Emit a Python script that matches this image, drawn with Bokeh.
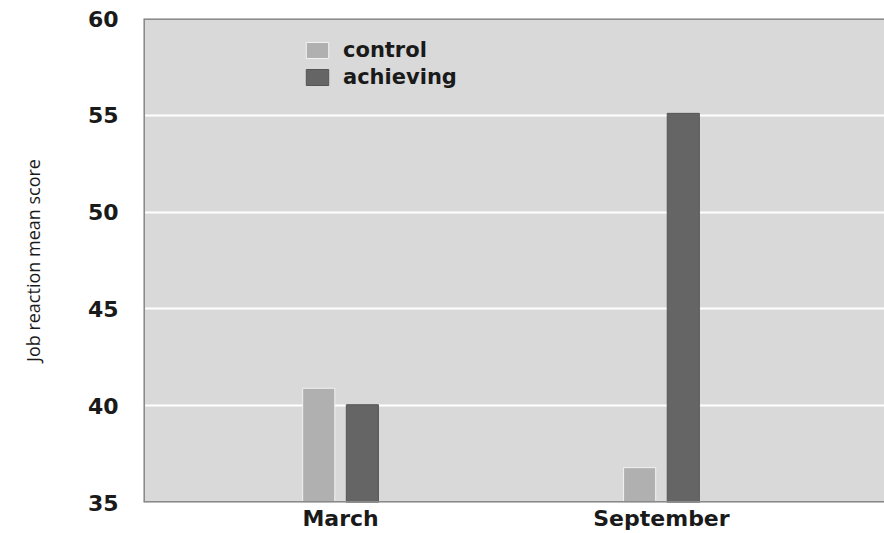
from bokeh.plotting import figure
from bokeh.models import ColumnDataSource, Range1d, FixedTicker, Legend, LegendItem, Span
from bokeh.embed import file_html
from bokeh.resources import INLINE

categories = ["March", "September"]
series_names = ["control", "achieving"]
control = [40.9, 36.8]
achieving = [40.05, 55.1]
y_ticks = [35, 40, 45, 50, 55, 60]

colors = ["#b0b0b0", "#656565"]
offsets = [-0.068, 0.068]
bar_w = 0.1
x_start, x_end = -0.614, 1.695

p = figure(width=884, height=533, output_backend="svg", toolbar_location=None,
           x_range=Range1d(x_start, x_end), y_range=Range1d(y_ticks[0], y_ticks[-1]),
           min_border_left=143, min_border_right=0, min_border_top=18, min_border_bottom=30)

p.background_fill_color = "#d9d9d9"
p.border_fill_color = "white"
p.outline_line_color = None

idx = list(range(len(categories)))
renderers = []
for name, vals, col, off in zip(series_names, [control, achieving], colors, offsets):
    src = ColumnDataSource(dict(x=[i + off for i in idx], top=vals))
    r = p.vbar(x="x", top="top", bottom=y_ticks[0], width=bar_w, source=src,
               fill_color=col, line_color="#f2f2f2" if name == "control" else "#555555",
               line_width=1)
    renderers.append(r)

# frame border on left, top and bottom only
for dim, loc in (("height", x_start), ("width", y_ticks[-1]), ("width", y_ticks[0])):
    p.add_layout(Span(location=loc, dimension=dim, line_color="#8a8a8a", line_width=3))

# axes
p.xaxis.ticker = FixedTicker(ticks=idx)
p.xaxis.major_label_overrides = {i: c for i, c in zip(idx, categories)}
p.yaxis.ticker = FixedTicker(ticks=y_ticks)
for ax in (p.xaxis[0], p.yaxis[0]):
    ax.axis_line_color = None
    ax.major_tick_line_color = None
    ax.minor_tick_line_color = None
    ax.major_tick_out = 0
    ax.major_tick_in = 0
    ax.major_label_text_font = "DejaVu Sans"
    ax.major_label_text_font_size = "22px"
    ax.major_label_text_font_style = "bold"
    ax.major_label_text_color = "#1a1a1a"
p.xaxis.major_label_standoff = 3
p.yaxis.major_label_standoff = 25

p.yaxis.axis_label = "Job reaction mean score"
p.yaxis.axis_label_text_font = "Open Sans"
p.yaxis.axis_label_text_font_size = "18px"
p.yaxis.axis_label_text_font_style = "normal"
p.yaxis.axis_label_text_color = "#1a1a1a"
p.yaxis.axis_label_standoff = 40

p.xgrid.grid_line_color = None
p.ygrid.ticker = FixedTicker(ticks=y_ticks[1:-1])
p.ygrid.grid_line_color = "white"
p.ygrid.grid_line_width = 2

legend = Legend(items=[LegendItem(label=n, renderers=[r]) for n, r in zip(series_names, renderers)],
                location=(160, 413))
legend.background_fill_alpha = 0
legend.border_line_color = None
legend.label_text_font = "DejaVu Sans"
legend.label_text_font_size = "21px"
legend.label_text_font_style = "bold"
legend.label_text_color = "#1a1a1a"
legend.glyph_width = 28
legend.glyph_height = 20
legend.spacing = 3
legend.padding = 0
legend.label_standoff = 12
p.add_layout(legend, "center")

open("out.html", "w").write(file_html(p, INLINE))
